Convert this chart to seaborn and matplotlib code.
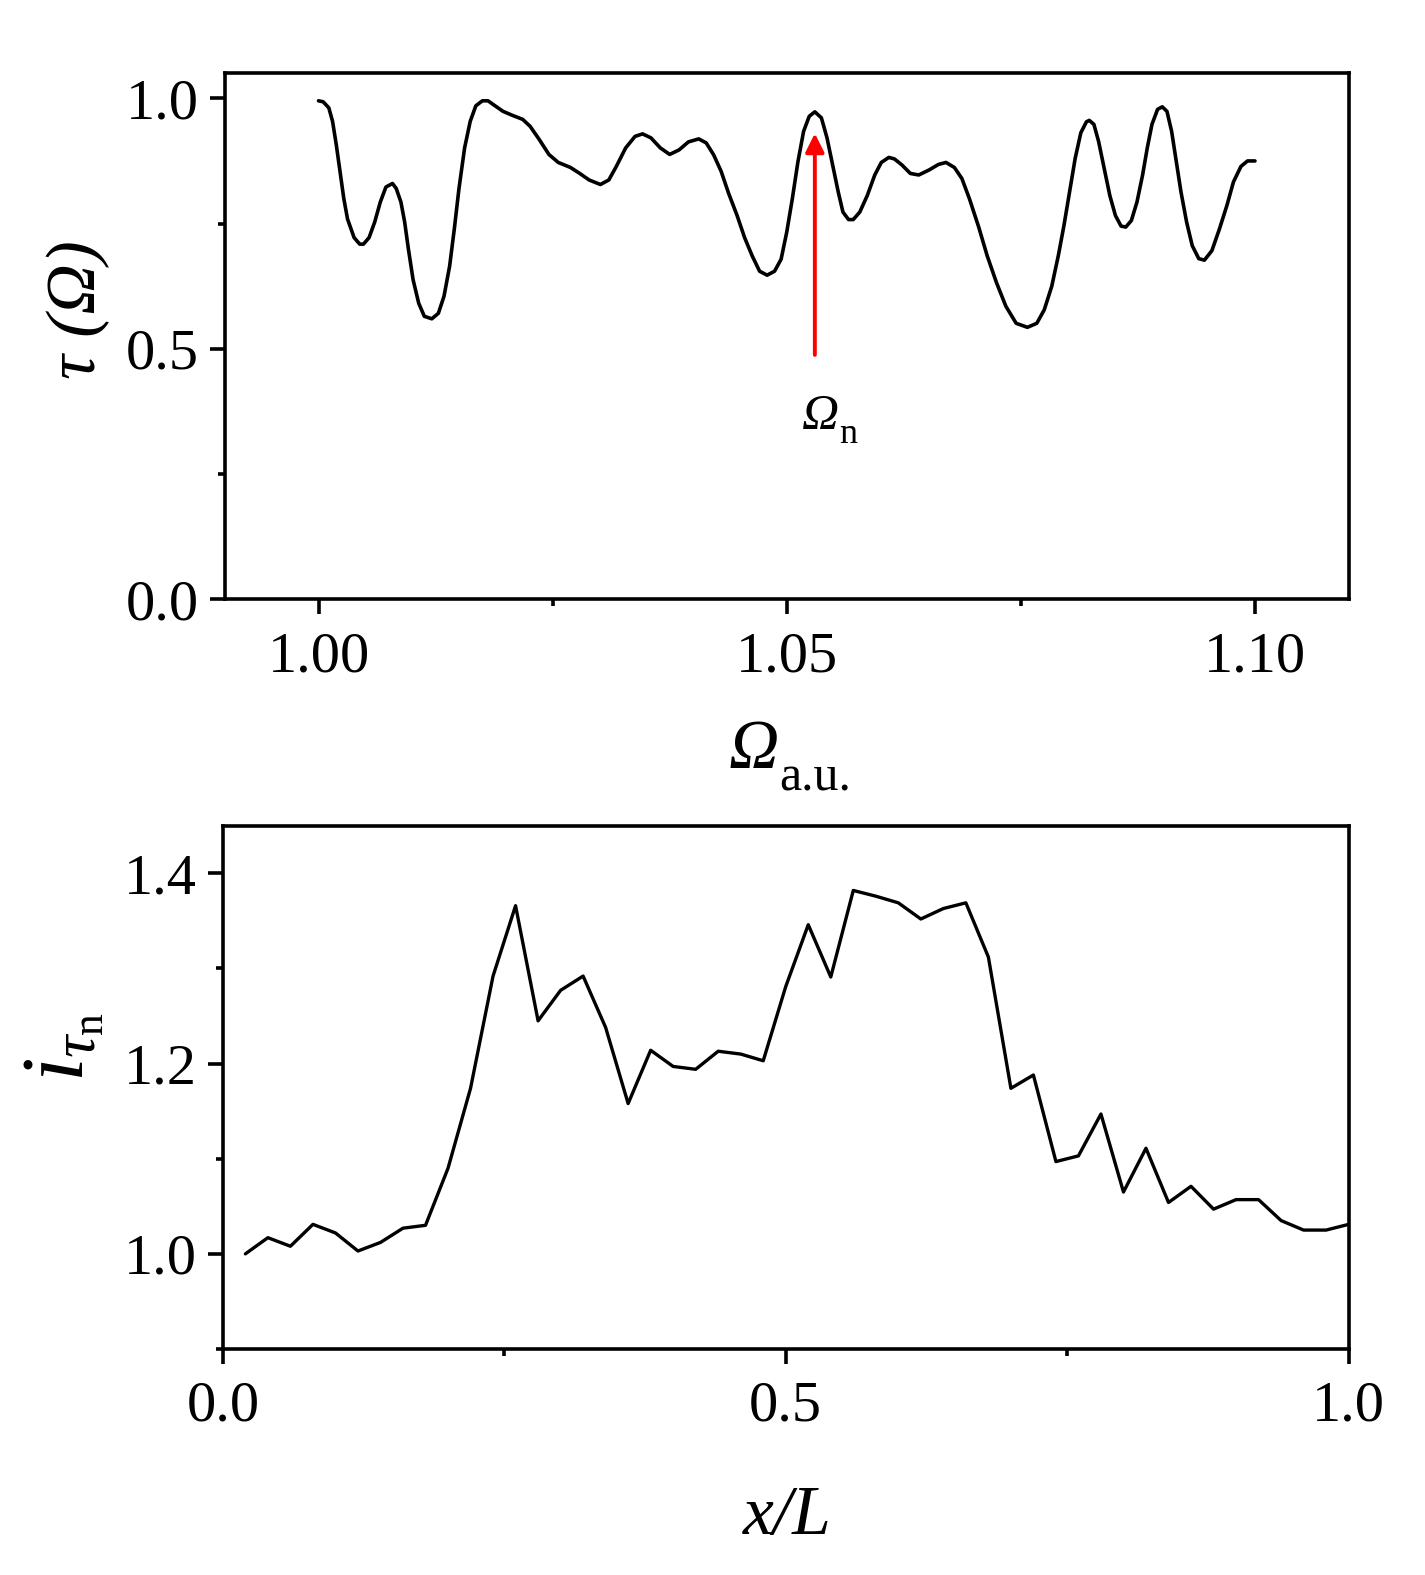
import numpy as np
import pandas as pd
import matplotlib
matplotlib.use("Agg")
import matplotlib.pyplot as plt
import seaborn as sns
from matplotlib.ticker import MultipleLocator, FormatStrFormatter

# top panel: transmission tau(Omega)
omega = [1.0000, 1.0005, 1.0011, 1.0015, 1.0019, 1.0023, 1.0027, 1.0031, 1.0038, 1.0044,
         1.0048, 1.0054, 1.0060, 1.0066, 1.0072, 1.0079, 1.0083, 1.0088, 1.0092, 1.0096,
         1.0101, 1.0107, 1.0113, 1.0121, 1.0128, 1.0134, 1.0140, 1.0145, 1.0150, 1.0156,
         1.0162, 1.0168, 1.0175, 1.0181, 1.0187, 1.0197, 1.0207, 1.0218, 1.0226, 1.0236,
         1.0246, 1.0256, 1.0269, 1.0279, 1.0289, 1.0301, 1.0310, 1.0318, 1.0328, 1.0338,
         1.0346, 1.0355, 1.0365, 1.0375, 1.0385, 1.0395, 1.0406, 1.0414, 1.0422, 1.0430,
         1.0438, 1.0447, 1.0455, 1.0463, 1.0471, 1.0479, 1.0487, 1.0494, 1.0500, 1.0506,
         1.0512, 1.0518, 1.0524, 1.0530, 1.0537, 1.0543, 1.0549, 1.0555, 1.0560, 1.0566,
         1.0571, 1.0578, 1.0586, 1.0594, 1.0601, 1.0609, 1.0615, 1.0623, 1.0632, 1.0641,
         1.0652, 1.0662, 1.0670, 1.0679, 1.0687, 1.0695, 1.0705, 1.0714, 1.0724, 1.0734,
         1.0745, 1.0757, 1.0767, 1.0775, 1.0783, 1.0790, 1.0796, 1.0802, 1.0808, 1.0814,
         1.0820, 1.0823, 1.0828, 1.0833, 1.0839, 1.0845, 1.0851, 1.0857, 1.0862, 1.0868,
         1.0874, 1.0880, 1.0885, 1.0890, 1.0896, 1.0901, 1.0906, 1.0911, 1.0916, 1.0921,
         1.0927, 1.0933, 1.0940, 1.0946, 1.0954, 1.0962, 1.0970, 1.0977, 1.0985, 1.0992,
         1.1000]
tau = [0.995, 0.993, 0.981, 0.954, 0.907, 0.853, 0.800, 0.759, 0.722, 0.709,
       0.709, 0.722, 0.753, 0.793, 0.823, 0.830, 0.820, 0.793, 0.753, 0.699,
       0.638, 0.591, 0.565, 0.560, 0.571, 0.605, 0.665, 0.739, 0.820, 0.901,
       0.954, 0.985, 0.995, 0.995, 0.987, 0.974, 0.966, 0.958, 0.944, 0.917,
       0.888, 0.872, 0.862, 0.850, 0.837, 0.828, 0.837, 0.864, 0.901, 0.924,
       0.929, 0.921, 0.901, 0.888, 0.897, 0.913, 0.919, 0.911, 0.887, 0.854,
       0.810, 0.766, 0.722, 0.686, 0.655, 0.647, 0.655, 0.679, 0.733, 0.800,
       0.874, 0.934, 0.964, 0.973, 0.961, 0.921, 0.867, 0.813, 0.773, 0.758,
       0.758, 0.773, 0.806, 0.847, 0.872, 0.882, 0.879, 0.867, 0.850, 0.847,
       0.857, 0.868, 0.872, 0.862, 0.840, 0.800, 0.743, 0.686, 0.632, 0.585,
       0.551, 0.543, 0.551, 0.578, 0.625, 0.686, 0.746, 0.813, 0.880, 0.931,
       0.953, 0.956, 0.948, 0.914, 0.860, 0.806, 0.766, 0.745, 0.743, 0.756,
       0.793, 0.847, 0.901, 0.948, 0.978, 0.983, 0.974, 0.934, 0.874, 0.813,
       0.753, 0.706, 0.680, 0.677, 0.696, 0.739, 0.786, 0.833, 0.864, 0.875,
       0.875]

# bottom panel: i_tau_n along the sample
x_over_L = [0.02, 0.04, 0.06, 0.08, 0.10, 0.12, 0.14, 0.16, 0.18, 0.20,
            0.22, 0.24, 0.26, 0.28, 0.30, 0.32, 0.34, 0.36, 0.38, 0.40,
            0.42, 0.44, 0.46, 0.48, 0.50, 0.52, 0.54, 0.56, 0.58, 0.60,
            0.62, 0.64, 0.66, 0.68, 0.70, 0.72, 0.74, 0.76, 0.78, 0.80,
            0.82, 0.84, 0.86, 0.88, 0.90, 0.92, 0.94, 0.96, 0.98, 1.00]
i_tau_n = [1.000, 1.017, 1.008, 1.031, 1.022, 1.003, 1.012, 1.027, 1.030, 1.090,
           1.174, 1.292, 1.366, 1.245, 1.277, 1.292, 1.238, 1.158, 1.214, 1.197,
           1.194, 1.213, 1.210, 1.203, 1.281, 1.346, 1.291, 1.382, 1.376, 1.369,
           1.352, 1.363, 1.369, 1.312, 1.174, 1.188, 1.097, 1.103, 1.147, 1.065,
           1.111, 1.054, 1.071, 1.047, 1.057, 1.057, 1.035, 1.025, 1.025, 1.031]

omega_n = 1.053

sns.set_theme(style="ticks")
plt.rcParams["font.family"] = ["Liberation Serif", "DejaVu Serif"]
plt.rcParams["mathtext.fontset"] = "custom"
plt.rcParams["mathtext.rm"] = "Liberation Serif"
plt.rcParams["mathtext.it"] = "Liberation Serif:italic"
plt.rcParams["mathtext.bf"] = "Liberation Serif:bold"
plt.rcParams["text.color"] = "black"
plt.rcParams["axes.labelcolor"] = "black"
plt.rcParams["xtick.color"] = "black"
plt.rcParams["ytick.color"] = "black"

fig = plt.figure(figsize=(14.25, 15.75), dpi=100)
ax1 = fig.add_axes([0.1578, 0.6194, 0.7886, 0.3341])
ax2 = fig.add_axes([0.1564, 0.1435, 0.7900, 0.3322])

df1 = pd.DataFrame({"omega": omega, "tau": tau})
df2 = pd.DataFrame({"x": x_over_L, "i": i_tau_n})

sns.lineplot(data=df1, x="omega", y="tau", ax=ax1, color="black", linewidth=2.6,
             estimator=None, sort=False, solid_joinstyle="round")
sns.lineplot(data=df2, x="x", y="i", ax=ax2, color="black", linewidth=2.4,
             estimator=None, sort=False)

ax1.set_xlim(0.99, 1.11)
ax1.set_ylim(0, 1.05)
ax1.xaxis.set_major_locator(MultipleLocator(0.05))
ax1.xaxis.set_minor_locator(MultipleLocator(0.025))
ax1.yaxis.set_major_locator(MultipleLocator(0.5))
ax1.yaxis.set_minor_locator(MultipleLocator(0.25))
ax1.xaxis.set_major_formatter(FormatStrFormatter("%.2f"))
ax1.yaxis.set_major_formatter(FormatStrFormatter("%.1f"))

ax2.set_xlim(0, 1)
ax2.set_ylim(0.9, 1.45)
ax2.xaxis.set_major_locator(MultipleLocator(0.5))
ax2.xaxis.set_minor_locator(MultipleLocator(0.25))
ax2.yaxis.set_major_locator(MultipleLocator(0.2))
ax2.yaxis.set_minor_locator(MultipleLocator(0.1))
ax2.xaxis.set_major_formatter(FormatStrFormatter("%.1f"))
ax2.yaxis.set_major_formatter(FormatStrFormatter("%.1f"))

for ax in (ax1, ax2):
    ax.set_xlabel("")
    ax.set_ylabel("")
    for s in ax.spines.values():
        s.set_visible(True)
        s.set_linewidth(2.6)
        s.set_color("black")
    ax.tick_params(which="major", direction="out", length=11, width=2.6,
                   labelsize=42, colors="black", top=False, right=False)
    ax.tick_params(which="minor", direction="out", length=5, width=2.6,
                   top=False, right=False)
    ax.tick_params(axis="x", which="major", pad=12)
    ax.tick_params(axis="y", which="major", pad=8)

# arrow and label for Omega_n
ax1.annotate("", xy=(omega_n, 0.93), xytext=(omega_n, 0.488),
             arrowprops=dict(arrowstyle="-|>", color="red", lw=2.8,
                             mutation_scale=28, shrinkA=0, shrinkB=0))
ax1.text(1.0556, 0.341, "Ω", fontsize=37, style="italic", ha="right", va="baseline")
ax1.text(1.0556, 0.3125, "n", fontsize=26, ha="left", va="baseline")

# axis labels
fig.text(0.5468, 0.5121, "Ω", fontsize=50, style="italic", ha="right", va="baseline")
fig.text(0.5468, 0.4981, "a.u.", fontsize=36, ha="left", va="baseline")
fig.text(0.0550, 0.8036, "τ (Ω)", fontsize=50, style="italic", rotation=90,
         ha="center", va="center")
fig.text(0.5521, 0.0261, "x/L", fontsize=50, style="italic", ha="center", va="baseline")
fig.text(0.0450, 0.3350, r"$i_{\tau_{\mathrm{n}}}$", fontsize=64, rotation=90,
         ha="center", va="center")

fig.savefig("out.png", dpi=100, facecolor="white")
